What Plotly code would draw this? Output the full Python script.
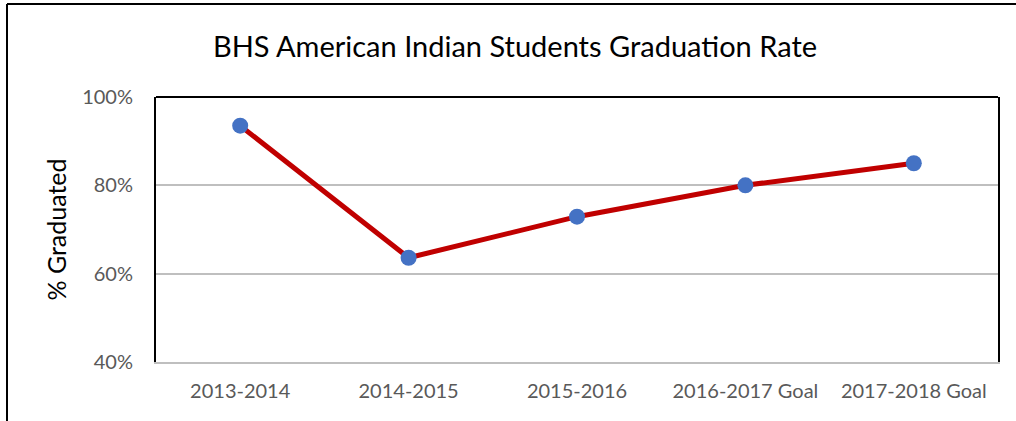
import plotly.graph_objects as go

categories = ["2013-2014", "2014-2015", "2015-2016", "2016-2017 Goal", "2017-2018 Goal"]
grad_rate = [0.935, 0.636, 0.729, 0.80, 0.85]
y_ticks = [0.4, 0.6, 0.8, 1.0]
y_tick_labels = ["40%", "60%", "80%", "100%"]

FONT = "Lato"
W, H = 1016, 421
L, R, T, B = 156, 18, 97, 59
PW, PH = W - L - R, H - T - B

fig = go.Figure()
fig.add_trace(go.Scatter(
    x=categories, y=grad_rate, mode="lines+markers",
    line=dict(color="#c00000", width=5),
    marker=dict(color="#4472c4", size=16),
    hoverinfo="skip", showlegend=False,
))

fig.update_layout(
    width=W, height=H,
    margin=dict(l=L, r=R, t=T, b=B),
    paper_bgcolor="white", plot_bgcolor="white",
    title=dict(text="BHS American Indian Students Graduation Rate",
               x=515 / W, xanchor="center", y=1 - 47 / H, yanchor="middle",
               font=dict(family=FONT, size=29, color="black")),
    xaxis=dict(
        type="category", range=[-0.5, 4.5],
        showgrid=False, showline=True, linecolor="#bfbfbf", linewidth=2,
        ticks="", ticklabelstandoff=10,
        tickfont=dict(family=FONT, size=20, color="#595959"),
    ),
    yaxis=dict(
        range=[0.4, 1.0], tickvals=y_ticks, ticktext=y_tick_labels,
        showgrid=True, gridcolor="#bfbfbf", gridwidth=1.5,
        showline=True, linecolor="black", linewidth=2, mirror=True,
        zeroline=False, ticks="", ticklabelstandoff=17,
        tickfont=dict(family=FONT, size=20, color="#595959"),
        title=dict(text="% Graduated", standoff=8,
                   font=dict(family=FONT, size=25, color="black")),
    ),
    shapes=[
        # top edge of plot area
        dict(type="line", xref="paper", yref="paper", x0=0, x1=1, y0=1, y1=1,
             line=dict(color="black", width=2)),
        # outer chart border: left edge
        dict(type="line", xref="paper", yref="paper",
             x0=(7 - L) / PW, x1=(7 - L) / PW,
             y0=(H - B - 4) / PH, y1=(H - B - 440) / PH,
             line=dict(color="black", width=2)),
        # outer chart border: top edge
        dict(type="line", xref="paper", yref="paper",
             x0=(7 - L) / PW, x1=(1040 - L) / PW,
             y0=(H - B - 4) / PH, y1=(H - B - 4) / PH,
             line=dict(color="black", width=2)),
    ],
)

fig.write_html("out.html", config={"displayModeBar": False},
               post_script="document.body.style.margin='0';")
